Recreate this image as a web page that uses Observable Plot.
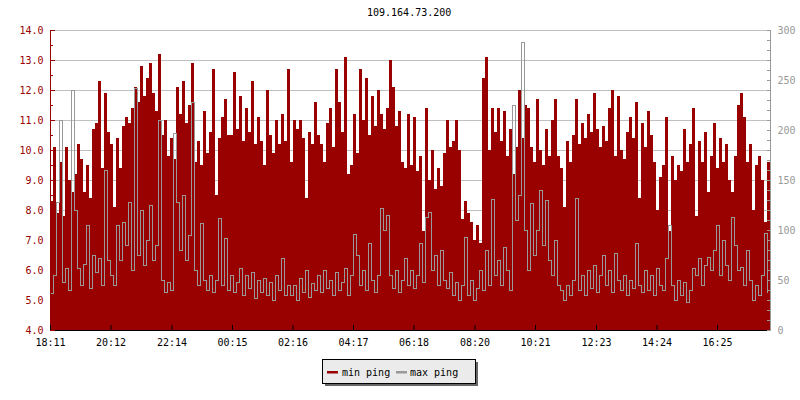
<!DOCTYPE html>
<html>
<head>
<meta charset="utf-8">
<script src="https://cdn.jsdelivr.net/npm/d3@7"></script>
<script src="https://cdn.jsdelivr.net/npm/@observablehq/plot@0.6"></script>
<style>
  body { margin: 0; background: #fff; font-family: "DejaVu Sans Mono", monospace; }
  #wrap { position: relative; width: 800px; height: 400px; overflow: hidden; }
  #title { position: absolute; left: 367px; top: 7px; font-size: 10px; line-height: 12px; color: #000; white-space: nowrap; }
  #legend { position: absolute; left: 320px; top: 357px; }
</style>
</head>
<body>
<div id="wrap">
  <div id="chart"></div>
  <div id="title"></div>
  <svg id="legend" width="165" height="34"></svg>
</div>
<script>
// ---- data ----
const chartTitle = "109.164.73.200";
const seriesNames = ["min ping", "max ping"];
const seriesColors = ["#990000", "#999999"];
const tickLabels = ["18:11","20:12","22:14","00:15","02:16","04:17","06:18","08:20","10:21","12:23","14:24","16:25"];
const leftTicks = [4, 5, 6, 7, 8, 9, 10, 11, 12, 13, 14];
const rightTicks = [0, 50, 100, 150, 200, 250, 300];
const sampleMinutes = 6;
const spanMinutes = 1440;

// min ping (left axis, ms), one value per 6 minutes
const minPing = [
  8.3,10.1,7.9,9.6,7.8,10.1,9.0,8.6,9.2,10.2,
  9.7,8.6,9.5,8.4,10.7,10.9,12.3,9.4,11.9,10.6,
  10.2,8.1,10.4,9.4,10.8,11.1,10.9,11.4,12.1,11.6,
  12.8,11.8,12.4,12.9,11.9,11.3,13.2,10.5,11.0,9.8,
  10.4,9.7,12.1,11.2,12.3,10.9,11.5,12.9,9.6,10.3,
  9.5,11.3,9.9,10.6,12.7,8.5,10.4,11.1,11.7,10.5,
  10.5,12.6,10.7,11.8,10.3,11.4,10.6,12.3,10.2,11.1,
  10.3,9.5,12.0,10.5,9.9,11.0,10.2,11.2,10.3,12.7,
  9.6,11.0,10.7,11.0,10.4,8.4,10.6,10.2,11.6,10.5,
  10.2,9.6,10.9,11.4,10.1,12.7,11.6,10.6,13.1,9.2,
  9.5,11.2,9.9,12.7,11.0,12.4,10.5,11.8,10.8,12.0,
  11.2,10.7,11.4,13.0,12.1,10.8,11.3,9.6,9.4,11.2,
  9.5,11.1,9.3,9.8,7.3,11.4,9.0,10.0,8.7,9.4,
  8.8,9.9,11.0,10.1,10.3,11.0,10.0,7.7,8.3,7.9,
  7.6,7.0,7.5,6.9,12.4,13.1,10.0,11.4,10.6,11.4,
  10.3,11.3,9.8,10.7,9.2,10.1,12.0,10.4,11.5,11.4,
  10.1,9.6,11.7,10.0,9.5,10.7,9.8,11.0,11.7,9.8,
  9.4,8.1,10.3,9.6,10.5,11.7,10.2,10.9,10.4,11.2,
  10.6,11.9,10.7,10.1,10.8,10.3,11.4,12.0,9.8,11.8,
  10.0,9.7,10.6,11.1,10.4,11.6,8.4,10.9,10.1,11.3,
  10.5,9.6,8.0,9.1,9.5,11.1,7.3,9.8,9.0,9.5,
  9.3,10.7,9.6,10.2,11.4,7.8,10.3,9.6,10.6,8.6,
  9.8,10.9,9.4,10.4,9.6,10.2,9.0,8.6,9.8,11.5,
  11.9,11.1,9.6,10.2,8.0,9.5,9.8,9.0,7.6,9.6
];

// max ping (right axis, ms), one value per 6 minutes
const maxPing = [
  37,55,128,210,48,62,40,240,120,62,
  45,66,105,42,75,58,72,45,160,70,
  55,45,105,70,108,85,128,60,242,75,
  120,65,90,125,70,85,210,50,38,48,
  40,197,128,80,135,70,95,228,60,45,
  107,50,40,55,38,50,112,45,92,40,
  55,38,48,62,35,55,42,58,32,50,
  38,52,35,48,30,55,40,72,35,45,
  35,45,30,52,38,60,33,47,40,55,
  38,60,42,50,35,58,40,48,62,35,
  55,96,75,45,60,40,87,50,38,55,
  122,100,115,55,42,60,38,50,72,45,
  60,42,55,87,48,113,118,60,75,45,
  80,50,42,58,35,48,30,45,93,35,
  50,30,42,60,40,80,45,131,55,70,
  45,83,60,40,225,110,135,288,100,60,
  127,75,100,140,85,130,70,55,90,45,
  40,30,45,35,50,132,40,55,35,60,
  42,65,38,55,75,45,60,38,77,50,
  40,55,35,50,42,87,45,38,60,40,
  55,35,62,45,40,72,105,45,30,50,
  35,48,28,40,62,55,72,45,65,73,
  60,80,105,55,90,65,50,113,85,60,
  63,45,80,50,30,45,35,55,97,38
];

// ---- derived ----
const leftDomain = [leftTicks[0], leftTicks[leftTicks.length - 1]];
const rightDomain = [rightTicks[0], rightTicks[rightTicks.length - 1]];
const k = (leftDomain[1] - leftDomain[0]) / (rightDomain[1] - rightDomain[0]);
const toLeft = v => leftDomain[0] + (v - rightDomain[0]) * k;
const toRight = v => rightDomain[0] + (v - leftDomain[0]) / k;

const startMin = (() => { const [h, m] = tickLabels[0].split(":").map(Number); return h * 60 + m; })();
const tickMinutes = tickLabels.map(s => {
  const [h, m] = s.split(":").map(Number);
  return ((h * 60 + m) - startMin + 1440) % 1440;
});

const rows = minPing.map((v, i) => ({
  t: i * sampleMinutes,
  t2: (i + 1) * sampleMinutes,
  min: v,
  max: toLeft(maxPing[i])
}));

const leftMinor = d3.range(leftDomain[0] + 0.5, leftDomain[1], 1);
const rightMinor = d3.range(rightDomain[0], rightDomain[1] + 1, 10);

const chart = Plot.plot({
  width: 800,
  height: 400,
  marginTop: 30,
  marginBottom: 70,
  marginLeft: 50,
  marginRight: 30,
  style: { fontFamily: "'DejaVu Sans Mono', monospace", fontSize: "10px", background: "#fff" },
  x: { domain: [0, spanMinutes] },
  y: { domain: leftDomain },
  marks: [
    Plot.ruleY(leftTicks.filter(v => v > leftDomain[0]), { stroke: "#c0c0c0" }),
    Plot.rectY(rows, { x1: "t", x2: "t2", y1: leftDomain[0], y2: "min", fill: seriesColors[0], shapeRendering: "crispEdges" }),
    Plot.line(rows, { x: "t", y: "max", curve: "step-after", stroke: seriesColors[1], strokeWidth: 1, shapeRendering: "crispEdges" }),
    Plot.ruleX([0], { stroke: "#990000" }),
    Plot.ruleX([spanMinutes], { stroke: "#999999" }),
    Plot.ruleY([leftDomain[0]], { stroke: "#000" }),
    // left axis
    Plot.axisY({ anchor: "left", ticks: leftTicks, tickSize: -5, fill: "none", stroke: "#990000", label: null }),
    Plot.axisY({ anchor: "left", ticks: leftMinor, tickSize: -3, fill: "none", stroke: "#990000", label: null }),
    Plot.axisY({ anchor: "left", ticks: leftTicks, tickSize: 0, tickPadding: 7, tickFormat: d => d.toFixed(1), fill: "#990000", label: null }),
    // right axis
    Plot.axisY({ anchor: "right", ticks: rightMinor.map(toLeft), tickSize: -4, fill: "none", stroke: "#999999", label: null }),
    Plot.axisY({ anchor: "right", ticks: rightTicks.map(toLeft), tickSize: 0, tickPadding: 7, tickFormat: d => String(Math.round(toRight(d))), fill: "#999999", label: null }),
    // bottom axis
    Plot.axisX({ ticks: tickMinutes, tickSize: -5, fill: "none", stroke: "#000", label: null }),
    Plot.axisX({ ticks: tickMinutes, tickSize: 0, tickPadding: 8, tickFormat: d => tickLabels[tickMinutes.indexOf(d)], fill: "#000", label: null })
  ]
});
document.getElementById("chart").appendChild(chart);

document.getElementById("title").textContent = chartTitle;

// legend (SVG)
const lg = d3.select("#legend");
lg.append("rect").attr("x", 5).attr("y", 5).attr("width", 153).attr("height", 24).attr("fill", "#666");
lg.append("rect").attr("x", 2.5).attr("y", 2.5).attr("width", 153).attr("height", 24)
  .attr("fill", "#ebebeb").attr("stroke", "#000").attr("stroke-width", 1);
const pos = [[7, 22], [76, 90]];
seriesNames.forEach((name, i) => {
  lg.append("rect").attr("x", pos[i][0]).attr("y", 14).attr("width", 11).attr("height", 2.5).attr("fill", seriesColors[i]);
  lg.append("text").attr("x", pos[i][1]).attr("y", 19)
    .attr("font-family", "'DejaVu Sans Mono', monospace").attr("font-size", 10).attr("fill", "#000").text(name);
});
</script>
</body>
</html>
